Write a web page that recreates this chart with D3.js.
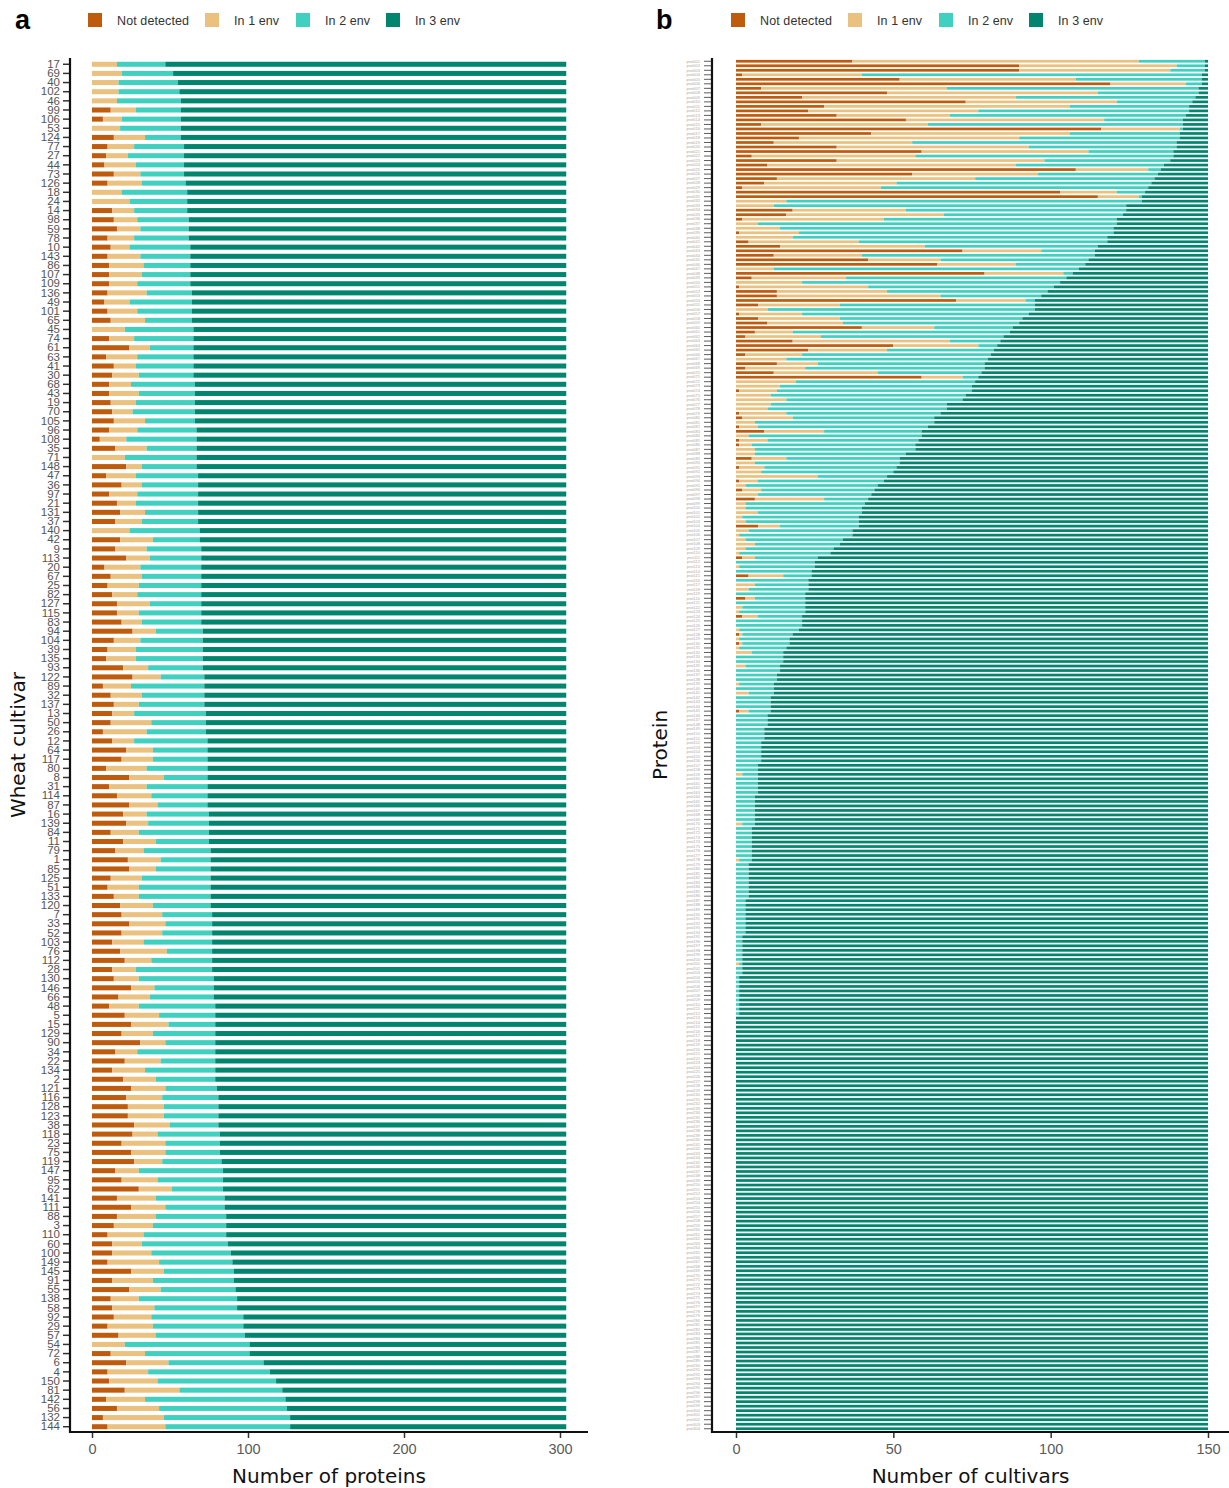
<!DOCTYPE html>
<html>
<head>
<meta charset="utf-8">
<script src="https://cdn.jsdelivr.net/npm/d3@7"></script>
<style>
  body { margin: 0; background: #fff; }
  svg { display: block; }
</style>
</head>
<body>
<svg id="chart" width="1229" height="1488"></svg>
<script>
// ---------- Panel a: proteins per wheat cultivar ----------
const cultivars = [17,69,40,102,46,99,106,53,124,77,27,44,73,126,18,24,14,98,59,78,
  10,143,86,107,109,136,49,101,65,45,74,61,63,41,30,68,43,19,70,105,
  96,108,35,71,148,47,36,97,21,131,37,140,42,9,113,20,67,25,82,127,
  115,83,94,104,39,135,93,122,89,32,137,13,50,26,12,64,117,80,8,31,
  114,87,16,139,84,11,79,1,85,125,51,133,120,7,33,52,103,76,112,28,
  130,146,66,48,5,15,129,90,34,22,134,2,121,116,128,123,38,118,23,75,
  119,147,95,62,141,111,88,3,110,60,100,149,145,91,55,138,58,92,29,57,
  54,72,6,4,150,81,142,56,132,144];

const cvNotDetected = [0,0,0,0,0,12,7,0,14,10, 9,8,14,10,0,0,13,14,16,10,
  12,10,11,11,11,10,8,10,12,0, 11,24,9,14,13,11,11,12,13,14,
  11,5,15,0,22,9,19,11,16,18, 15,0,18,15,22,8,12,10,13,16,
  16,19,26,14,10,9,20,26,7,12, 14,13,12,7,13,22,19,9,24,11,
  16,24,20,22,12,20,15,23,24,12, 10,14,18,19,24,19,13,18,21,13,
  14,25,17,11,21,25,19,31,15,21, 13,20,25,22,23,23,27,26,19,25,
  27,15,19,30,16,25,16,14,10,13, 13,10,25,13,24,12,13,14,10,17,
  0,12,22,10,11,21,9,16,7,10];
const cvIn1 = [16,19,17,17,16,16,12,18,20,17, 14,20,17,22,19,24,14,15,15,17,
  12,21,22,21,18,25,16,19,22,21, 16,13,20,14,17,14,19,16,13,20,
  18,17,20,21,10,19,13,18,12,16, 17,24,21,20,15,23,20,20,16,21,
  14,13,15,17,18,19,16,18,18,20, 16,14,26,28,14,17,20,26,22,24,
  22,18,15,14,18,21,18,21,17,20, 20,16,21,26,23,26,20,30,17,15,
  16,15,20,19,22,24,20,16,14,23, 21,21,22,23,23,23,23,16,28,22,
  18,15,23,21,25,22,25,25,23,19, 25,33,21,26,20,18,27,24,29,24,
  21,22,27,26,31,35,25,27,39,37];
const cvIn2 = [31,33,38,39,41,29,38,39,23,32, 36,31,28,28,42,37,34,33,31,35,
  39,32,30,31,34,29,40,35,30,44, 38,28,36,37,35,41,36,38,40,32,
  38,45,32,46,35,40,36,39,40,34, 36,45,30,35,33,39,38,40,41,33,
  40,38,30,40,43,43,35,28,47,40, 42,46,35,38,47,35,35,39,28,39,
  36,32,40,39,45,34,43,32,35,44, 46,46,37,32,30,32,44,29,39,49,
  48,38,41,49,36,30,40,32,50,35, 45,38,33,36,35,35,31,40,35,35,
  38,54,42,33,44,38,45,47,53,55, 51,47,45,52,48,63,53,59,58,57,
  80,67,61,78,76,66,90,82,81,80];
const cvIn3 = [257,252,249,248,247,247,247,247,247,245, 245,245,245,244,243,243,243,242,242,242,
  241,241,241,241,241,240,240,240,240,239, 239,239,239,239,239,238,238,238,238,238,
  237,237,237,237,237,236,236,236,236,236, 236,235,235,234,234,234,234,234,234,234,
  234,234,233,233,233,233,233,232,232,232, 232,231,231,231,230,230,230,230,230,230,
  230,230,229,229,229,229,228,228,228,228, 228,228,228,227,227,227,227,227,227,227,
  226,226,226,225,225,225,225,225,225,225, 225,225,224,223,223,223,223,222,222,222,
  221,220,220,220,219,219,218,218,218,217, 215,214,213,213,212,211,211,207,207,206,
  203,203,194,190,186,182,180,179,177,177];
const proteinTicks = [0, 100, 200, 300];

// ---------- Panel b: cultivars per protein ----------
const protNotDetected = [
  37,90,90,2,52,119,8,48,21,73,28,23,32,54,8,116,43,20,12,32,
  59,5,32,10,108,56,13,9,2,103,115,0,0,18,16,2,0,0,1,0,
  4,14,72,12,42,64,0,79,5,0,1,13,13,70,7,0,1,7,10,40,
  6,3,18,50,23,3,0,13,3,12,59,0,0,1,0,0,0,0,1,2,
  0,1,9,0,1,1,0,0,5,0,1,0,0,1,0,2,0,6,0,0,
  0,0,0,7,0,0,0,0,0,0,2,0,0,0,4,0,0,0,0,3,
  0,0,0,2,0,0,0,1,0,1,0,0,0,0,0,0,0,0,0,0,
  0,0,0,0,1,0,0,0,0,0,0,0,0,0,0,0,0,0,0,0,
  0,0,0,0,0,0,0,0,0,0,0,0,0,0,0,0,0,0,0,0,
  0,0,0,0,0,0,0,0,0,0,0,0,0,0,0,0,0,0,0,0,
  0,0,0,0,0,0,0,0,0,0,0,0,0,0,0,0,0,0,0,0,
  0,0,0,0,0,0,0,0,0,0,0,0,0,0,0,0,0,0,0,0,
  0,0,0,0,0,0,0,0,0,0,0,0,0,0,0,0,0,0,0,0,
  0,0,0,0,0,0,0,0,0,0,0,0,0,0,0,0,0,0,0,0,
  0,0,0,0,0,0,0,0,0,0,0,0,0,0,0,0,0,0,0,0,
  0,0,0,0];
const protIn1 = [
  91,50,48,38,56,24,59,67,68,48,78,54,36,63,53,25,63,70,44,61,
  53,52,66,79,23,40,63,42,44,18,13,16,12,36,50,45,7,14,19,18,
  35,46,25,28,23,25,12,25,30,21,41,35,52,22,26,10,20,26,24,23,
  12,24,50,27,25,18,16,13,19,33,13,19,14,12,11,16,11,10,15,16,
  6,6,19,4,9,4,6,6,11,6,8,8,26,6,3,6,7,22,3,3,
  7,2,3,7,4,1,3,6,3,1,4,0,1,0,11,0,6,4,0,3,
  0,2,1,5,0,0,1,1,1,1,1,5,0,0,3,0,0,0,1,0,
  4,0,0,0,3,0,0,0,0,0,0,0,0,0,0,0,0,0,2,0,
  0,0,0,0,0,0,0,0,0,2,0,0,0,0,0,0,0,1,0,0,
  0,0,0,0,0,0,0,0,0,0,0,0,0,0,0,0,0,0,0,0,
  1,0,0,0,0,0,0,0,0,0,0,0,0,0,0,0,0,0,0,0,
  0,0,0,0,0,0,0,0,0,0,0,0,0,0,0,0,0,0,0,0,
  0,0,0,0,0,0,0,0,0,0,0,0,0,0,0,0,0,0,0,0,
  0,0,0,0,0,0,0,0,0,0,0,0,0,0,0,0,0,0,0,0,
  0,0,0,0,0,0,0,0,0,0,0,0,0,0,0,0,0,0,0,0,
  0,0,0,0];
const protIn2 = [
  21,9,11,108,40,5,80,32,57,24,38,67,75,25,81,1,35,51,84,47,
  27,82,40,47,4,38,57,81,85,9,1,113,112,70,57,74,114,106,100,100,
  79,55,17,74,47,22,97,3,70,82,59,51,32,3,62,85,72,58,56,25,
  69,58,16,6,34,60,64,53,57,33,5,57,61,62,62,56,56,57,49,45,
  57,54,31,55,48,52,51,48,36,46,42,42,22,40,42,36,36,14,38,37,
  33,37,36,25,33,36,31,27,28,29,20,25,24,24,9,23,17,19,22,16,
  22,20,21,14,21,21,19,16,16,15,15,10,15,15,11,14,13,13,11,12,
  8,11,11,11,7,10,10,10,9,9,9,8,8,8,8,8,7,7,5,7,
  7,7,7,6,6,6,6,6,6,4,5,5,5,5,5,5,5,4,4,4,
  4,4,4,4,4,4,3,3,3,3,3,3,3,3,2,2,2,2,2,2,
  1,2,2,1,1,1,1,1,1,1,1,1,0,0,0,0,0,0,0,0,
  0,0,0,0,0,0,0,0,0,0,0,0,0,0,0,0,0,0,0,0,
  0,0,0,0,0,0,0,0,0,0,0,0,0,0,0,0,0,0,0,0,
  0,0,0,0,0,0,0,0,0,0,0,0,0,0,0,0,0,0,0,0,
  0,0,0,0,0,0,0,0,0,0,0,0,0,0,0,0,0,0,0,0,
  0,0,0,0];
const protIn3 = [
  1,1,1,2,2,2,3,3,4,5,6,6,7,8,8,8,9,9,10,10,
  11,11,12,14,15,16,17,18,19,20,21,21,26,26,27,29,29,30,30,32,
  32,35,36,36,38,39,41,43,45,47,49,51,53,55,55,55,57,59,60,62,
  63,65,66,67,68,69,70,71,71,72,73,74,75,75,77,78,83,83,85,87,
  87,89,91,91,92,93,93,96,98,98,99,100,102,103,105,106,107,108,109,110,
  110,111,111,111,113,113,116,117,119,120,124,125,125,126,126,127,127,127,128,128,
  128,128,128,129,129,129,130,132,133,133,134,135,135,135,136,136,137,137,138,138,
  138,139,139,139,139,140,140,140,141,141,141,142,142,142,142,142,143,143,143,143,
  143,143,143,144,144,144,144,144,144,144,145,145,145,145,145,145,145,145,146,146,
  146,146,146,146,146,146,147,147,147,147,147,147,147,147,148,148,148,148,148,148,
  148,148,148,149,149,149,149,149,149,149,149,149,150,150,150,150,150,150,150,150,
  150,150,150,150,150,150,150,150,150,150,150,150,150,150,150,150,150,150,150,150,
  150,150,150,150,150,150,150,150,150,150,150,150,150,150,150,150,150,150,150,150,
  150,150,150,150,150,150,150,150,150,150,150,150,150,150,150,150,150,150,150,150,
  150,150,150,150,150,150,150,150,150,150,150,150,150,150,150,150,150,150,150,150,
  150,150,150,150];
const cultivarTicks = [0, 50, 100, 150];

// ---------- shared legend / colours ----------
const envKeys = ["Not detected", "In 1 env", "In 2 env", "In 3 env"];
const envColors = ["#BF5B0C", "#EAC17F", "#40D0C0", "#01856F"];
const color = d3.scaleOrdinal(envKeys, envColors);

const proteinNames = protIn3.map((_, i) => "prot" + String(i + 1).padStart(3, "0"));

function makeRows(names, nd, e1, e2, e3) {
  return names.map((name, i) => ({
    name: String(name),
    "Not detected": nd[i], "In 1 env": e1[i], "In 2 env": e2[i], "In 3 env": e3[i]
  }));
}

const svg = d3.select("#chart");
const stack = d3.stack().keys(envKeys);

function drawPanel(cfg) {
  const g = svg.append("g");
  const rows = cfg.rows;
  const series = stack(rows);

  const x = d3.scaleLinear().domain(cfg.xDomain).range(cfg.xRange);
  const y = d3.scaleBand().domain(rows.map(d => d.name))
    .range(cfg.yRange).paddingInner(cfg.pad).paddingOuter(cfg.pad / 2);

  // panel letter
  g.append("text").attr("x", cfg.letterX).attr("y", 29)
    .attr("font-family", "Liberation Sans, Arial, sans-serif")
    .attr("font-weight", "bold").attr("font-size", 27).attr("fill", "#000")
    .text(cfg.letter);

  // legend
  const legOffsets = [0, 117, 208, 298];
  const leg = g.selectAll("g.leg").data(envKeys).join("g")
    .attr("transform", (d, i) => `translate(${cfg.legendX + legOffsets[i]},13)`);
  leg.append("rect").attr("width", 14).attr("height", 14).attr("fill", d => color(d));
  leg.append("text").attr("x", 29).attr("y", 11.5)
    .attr("font-family", "Liberation Sans, Arial, sans-serif")
    .attr("font-size", 12.5).attr("fill", "#333")
    .attr("textLength", d => ({"Not detected": 72, "In 1 env": 45, "In 2 env": 45, "In 3 env": 45})[d])
    .text(d => d);

  // stacked bars
  const barH = y.bandwidth();
  g.selectAll("g.series").data(series).join("g")
    .attr("fill", d => color(d.key))
    .selectAll("rect").data(d => d).join("rect")
    .attr("x", d => x(d[0]))
    .attr("width", d => Math.max(0, x(d[1]) - x(d[0])))
    .attr("y", d => y(d.data.name))
    .attr("height", barH);

  // y axis
  const yAxis = d3.axisLeft(y).tickSize(cfg.yTickSize).tickSizeOuter(0).tickPadding(cfg.yTickPad);
  const ya = g.append("g").attr("transform", `translate(${cfg.axisX},0)`).call(yAxis);
  ya.select(".domain").remove();
  ya.selectAll(".tick line").attr("stroke", "#333").attr("stroke-width", cfg.yTickWidth);
  ya.selectAll(".tick text")
    .attr("font-family", "Liberation Sans, Arial, sans-serif")
    .attr("font-size", cfg.yFont).attr("fill", cfg.yLabelColor);

  // x axis
  const xAxis = d3.axisBottom(x).tickValues(cfg.xTicks).tickSize(6).tickSizeOuter(0).tickPadding(6);
  const xa = g.append("g").attr("transform", `translate(0,${cfg.axisY})`).call(xAxis);
  xa.select(".domain").remove();
  xa.selectAll(".tick line").attr("stroke", "#333").attr("stroke-width", 1.5);
  xa.selectAll(".tick text")
    .attr("font-family", "Liberation Sans, Arial, sans-serif")
    .attr("font-size", 14.5).attr("fill", "#5a5a5a");

  // axis lines
  g.append("line").attr("x1", cfg.axisX).attr("x2", cfg.axisX)
    .attr("y1", cfg.yTop).attr("y2", cfg.axisY + 1)
    .attr("stroke", "#111").attr("stroke-width", 2.2);
  g.append("line").attr("x1", cfg.axisX - 1).attr("x2", cfg.xRight)
    .attr("y1", cfg.axisY).attr("y2", cfg.axisY)
    .attr("stroke", "#111").attr("stroke-width", 2.2);

  // axis titles
  g.append("text").attr("x", (cfg.axisX + cfg.xRight) / 2).attr("y", 1483)
    .attr("text-anchor", "middle")
    .attr("font-family", "DejaVu Sans, Verdana, sans-serif")
    .attr("font-size", 20).attr("fill", "#111")
    .text(cfg.xTitle);
  g.append("text")
    .attr("transform", `translate(${cfg.yTitleX},745) rotate(-90)`)
    .attr("text-anchor", "middle").attr("dy", "0.35em")
    .attr("font-family", "DejaVu Sans, Verdana, sans-serif")
    .attr("font-size", 20).attr("fill", "#111")
    .text(cfg.yTitle);
}

drawPanel({
  letter: "a", letterX: 15, legendX: 88,
  rows: makeRows(cultivars, cvNotDetected, cvIn1, cvIn2, cvIn3),
  xDomain: [0, 300], xRange: [92, 560], xTicks: proteinTicks,
  yRange: [59.7, 1431.3], pad: 0.45,
  axisX: 70, axisY: 1432, yTop: 58, xRight: 588,
  yTickSize: 7, yTickPad: 3, yTickWidth: 1.5, yFont: 11.5, yLabelColor: "#555",
  xTitle: "Number of proteins", yTitle: "Wheat cultivar", yTitleX: 18
});

drawPanel({
  letter: "b", letterX: 656, legendX: 731,
  rows: makeRows(proteinNames, protNotDetected, protIn1, protIn2, protIn3),
  xDomain: [0, 150], xRange: [736, 1208], xTicks: cultivarTicks,
  yRange: [59, 1431], pad: 0.4,
  axisX: 712, axisY: 1432, yTop: 58, xRight: 1229,
  yTickSize: 8, yTickPad: 4, yTickWidth: 0.8, yFont: 4, yLabelColor: "#aaa",
  xTitle: "Number of cultivars", yTitle: "Protein", yTitleX: 660
});
</script>
</body>
</html>
